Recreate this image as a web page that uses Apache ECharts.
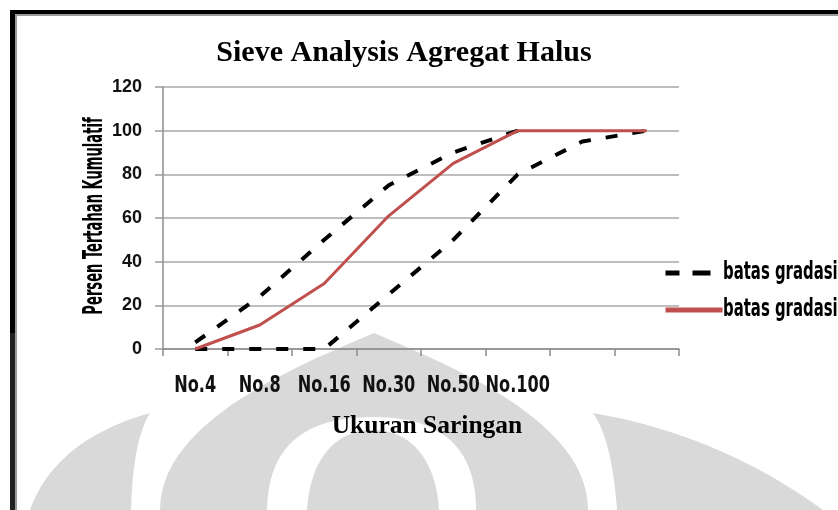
<!DOCTYPE html>
<html>
<head>
<meta charset="utf-8">
<script src="https://cdn.jsdelivr.net/npm/echarts@6/dist/echarts.min.js"></script>
<style>
  html, body { margin: 0; padding: 0; background: #ffffff; }
  #chart { width: 838px; height: 510px; }
</style>
</head>
<body>
<div id="chart"></div>
<script>
// Sieve sizes along the x axis (the last two positions carry no label)
const categories = ['No.4', 'No.8', 'No.16', 'No.30', 'No.50', 'No.100', '', ' '];

// Cumulative retained percentages
const batasAtas = [3, 24, 50, 75, 90, 100];
const batasBawah = [0, 0, 0, 25, 50, 80, 95, 100];
const gradasiAgregat = [0, 11, 30, 61, 85, 100, 100, 100];

// Y axis range and step
const yMin = 0;
const yMax = 120;
const yStep = 20;

const legendText = 'batas gradasi';

const chart = echarts.init(document.getElementById('chart'), null, { renderer: 'canvas' });

const condBold = "'DejaVu Sans Condensed', 'DejaVu Sans', sans-serif";
const serifBold = "'Liberation Serif', 'DejaVu Serif', serif";
const grey = '#d9d9d9';

// Sample a chain of quadratic / cubic curves into polygon points for the background emblem
function shape(start, segments) {
  const pts = [start.slice()];
  let p0 = start;
  segments.forEach(function (seg) {
    const n = 28;
    if (seg.length === 1) { pts.push(seg[0].slice()); p0 = seg[0]; return; }
    for (let i = 1; i <= n; i++) {
      const t = i / n, u = 1 - t;
      let x, y;
      if (seg.length === 2) {
        x = u * u * p0[0] + 2 * u * t * seg[0][0] + t * t * seg[1][0];
        y = u * u * p0[1] + 2 * u * t * seg[0][1] + t * t * seg[1][1];
      } else {
        x = u * u * u * p0[0] + 3 * u * u * t * seg[0][0] + 3 * u * t * t * seg[1][0] + t * t * t * seg[2][0];
        y = u * u * u * p0[1] + 3 * u * u * t * seg[0][1] + 3 * u * t * t * seg[1][1] + t * t * t * seg[2][1];
      }
      pts.push([x, y]);
    }
    p0 = seg[seg.length - 1];
  });
  return pts;
}

const emblem = {
  wingLeft: shape([30, 510], [[[55, 440], [150, 413]], [[133, 440], [131, 510]]]),
  wingRight: shape([823, 510], [[[720, 435], [593, 413]], [[612, 440], [617, 510]]]),
  dome: shape([160, 510], [[[160, 420], [300, 365], [374, 333]], [[448, 365], [588, 420], [588, 510]], [[476, 510]],
                           [[476, 450], [444, 417], [373, 417]], [[300, 417], [268, 450], [267, 510]]]),
  tongue: shape([307, 510], [[[310, 460], [335, 430], [373, 430]], [[411, 430], [436, 460], [439, 510]], [[307, 510]]])
};

const option = {
  backgroundColor: '#ffffff',
  animation: false,
  title: {
    text: 'Sieve Analysis Agregat Halus',
    left: 404,
    top: 38,
    padding: 0,
    textAlign: 'center',
    textStyle: { fontFamily: serifBold, fontWeight: 'bold', fontSize: 30, color: '#000' }
  },
  legend: {
    orient: 'vertical',
    left: 663,
    top: 262,
    padding: 0,
    itemGap: 15,
    itemWidth: 57,
    itemHeight: 22,
    itemStyle: { opacity: 0 },
    data: [
      { name: 'batas gradasi', lineStyle: { width: 5, type: [14, 13, 18, 40] } },
      { name: 'gradasi agregat', lineStyle: { width: 5 } }
    ],
    formatter: function () { return ' '; },
    textStyle: { fontFamily: condBold, fontSize: 22, color: '#000' }
  },
  grid: { left: 163, right: 159, top: 87, bottom: 161, containLabel: false },
  xAxis: {
    type: 'category',
    data: categories,
    boundaryGap: true,
    name: 'Ukuran Saringan',
    nameLocation: 'middle',
    nameGap: 64,
    nameTextStyle: { fontFamily: serifBold, fontWeight: 'bold', fontSize: 25.5, color: '#000', padding: [0, 0, 0, 12] },
    axisLine: { lineStyle: { color: '#8c8c8c', width: 1.5 } },
    axisTick: { show: true, length: 7, alignWithLabel: false, lineStyle: { color: '#8c8c8c', width: 1.5 } },
    axisLabel: { show: false },
    splitLine: { show: false }
  },
  yAxis: {
    type: 'value',
    min: yMin,
    max: yMax,
    interval: yStep,
    axisLine: { show: true, lineStyle: { color: '#8c8c8c', width: 1.5 } },
    axisTick: { show: true, inside: false, length: 8, lineStyle: { color: '#9a9a9a', width: 1.5 } },
    axisLabel: { margin: 21, fontFamily: "'Liberation Sans', Arial, sans-serif", fontWeight: 'bold', fontSize: 18, color: '#111' },
    splitLine: { show: true, lineStyle: { color: '#a8a8a8', width: 1.5 } }
  },
  series: [
    {
      name: 'batas gradasi',
      type: 'line',
      data: batasAtas,
      symbol: 'none',
      lineStyle: { color: '#000', width: 4, type: [12, 15] },
      itemStyle: { color: '#000' },
      z: 2
    },
    {
      name: 'batas gradasi',
      type: 'line',
      data: batasBawah,
      symbol: 'none',
      lineStyle: { color: '#000', width: 4, type: [12, 15] },
      itemStyle: { color: '#000' },
      z: 2
    },
    {
      name: 'gradasi agregat',
      type: 'line',
      data: gradasiAgregat,
      symbol: 'none',
      lineStyle: { color: '#c0504d', width: 3 },
      itemStyle: { color: '#c0504d' },
      z: 3
    }
  ]
};

chart.setOption(option);

// Condensed bold labels: drawn as text elements squeezed horizontally
const baseY = chart.convertToPixel({ yAxisIndex: 0 }, 0);
const midY = chart.convertToPixel({ yAxisIndex: 0 }, (yMin + yMax) / 2);
const step = chart.convertToPixel({ xAxisIndex: 0 }, 1) - chart.convertToPixel({ xAxisIndex: 0 }, 0);
const plotLeft = chart.convertToPixel({ xAxisIndex: 0 }, 0) - step / 2;

const texts = [];
categories.forEach(function (c, i) {
  if (!c.trim()) return;
  texts.push({
    type: 'text', id: 'xlab' + i, z: 10, silent: true,
    x: chart.convertToPixel({ xAxisIndex: 0 }, i), y: baseY + 37,
    scaleX: 0.78,
    style: { text: c, align: 'center', verticalAlign: 'middle', fontFamily: condBold, fontWeight: 'bold', fontSize: 23, fill: '#111' }
  });
});
// y axis title
texts.push({
  type: 'text', id: 'yname', z: 10, silent: true,
  x: plotLeft - 68, y: midY - 2,
  rotation: Math.PI / 2,
  scaleX: 0.54,
  style: { text: 'Persen Tertahan Kumulatif', align: 'center', verticalAlign: 'middle', fontFamily: condBold, fontWeight: 'bold', fontSize: 27, fill: '#000' }
});
// legend labels
[273, 310].forEach(function (y, k) {
  texts.push({
    type: 'text', id: 'leg' + k, z: 10, silent: true,
    x: 723, y: y,
    scaleX: 0.69,
    style: { text: legendText, align: 'left', verticalAlign: 'middle', fontFamily: condBold, fontWeight: 'bold', fontSize: 24, fill: '#000' }
  });
});

const frame = [
  { type: 'rect', id: 'f1', z: 100, silent: true, shape: { x: 10, y: 10, width: 828, height: 4 }, style: { fill: '#000' } },
  { type: 'rect', id: 'f2', z: 100, silent: true, shape: { x: 14, y: 14, width: 824, height: 2 }, style: { fill: '#9a9a9a' } },
  { type: 'rect', id: 'f3', z: 100, silent: true, shape: { x: 10, y: 10, width: 5, height: 323 }, style: { fill: '#000' } },
  { type: 'rect', id: 'f4', z: 100, silent: true, shape: { x: 10, y: 333, width: 5, height: 177 }, style: { fill: '#222' } },
  { type: 'rect', id: 'f5', z: 100, silent: true, shape: { x: 15, y: 14, width: 2, height: 496 }, style: { fill: '#9a9a9a' } }
];

const emblemEls = Object.keys(emblem).map(function (key, k) {
  return { type: 'polygon', id: 'emblem-' + key, z: -10 + k, silent: true, shape: { points: emblem[key] }, style: { fill: grey } };
});

chart.setOption({ graphic: emblemEls.concat(texts, frame) });
</script>
</body>
</html>
